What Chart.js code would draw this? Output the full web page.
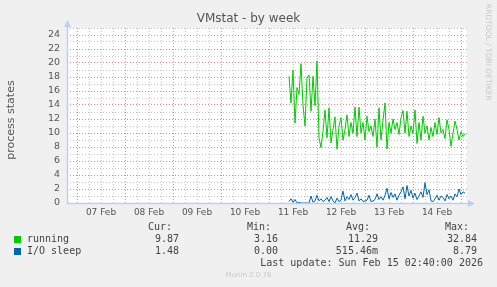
<!DOCTYPE html>
<html lang="en">
<head>
    <meta charset="UTF-8">
    <title>VMstat - by week</title>
    <script src="https://cdn.jsdelivr.net/npm/chart.js"></script>
    <style>
        body { margin: 0; background: #f0f0f0; }
        .wrap { position: relative; width: 497px; height: 287px; font-family: 'DejaVu Sans', sans-serif; color: #555; }
        .wrap canvas { position: absolute; left: 0; top: 0; }
        .t { position: absolute; white-space: pre; }
        .title { left: 0; width: 497px; top: 11px; text-align: center; font-size: 12px; }
        .ylab { left: -34px; top: 113px; width: 90px; text-align: center; font-size: 11px; line-height: 14px; transform: rotate(-90deg); }
        .rrd { left: 484px; top: 4px; font-size: 7.5px; color: #c8c8c8; writing-mode: vertical-rl; }
        .mono { font-family: 'DejaVu Sans Mono', monospace; font-size: 10px; color: #444; }
        .sq { position: absolute; width: 7px; height: 7px; }
        .munin { left: 0; width: 497px; top: 271px; text-align: center; font-size: 7px; color: #c8c8c8; }
    </style>
</head>
<body>
<div class="wrap">
    <canvas id="chart" width="497" height="287"></canvas>
    <div class="t title">VMstat - by week</div>
    <div class="t ylab">process states</div>
    <div class="t rrd">RRDTOOL / TOBI OETIKER</div>
    <div id="legend"></div>
    <div class="t munin">Munin 2.0.76</div>
</div>
<script>
    // hours counted from 07 Feb 00:00, one sample per hour
    const startHour = 106;
    const dayLabels = ['07 Feb', '08 Feb', '09 Feb', '10 Feb', '11 Feb', '12 Feb', '13 Feb', '14 Feb'];

    const running = [
        18.1, 14.3, 19.0, 11.4, 16.5, 15.5, 19.9, 14.0, 11.0, 17.9, 18.3, 13.1, 18.1, 13.9, 20.3, 9.3,
        7.9, 10.3, 13.3, 9.3, 13.6, 8.6, 10.5, 12.3, 7.7, 11.0, 12.2, 9.0, 10.5, 12.6, 9.5, 11.5,
        10.0, 13.7, 9.5, 13.7, 10.0, 11.5, 9.0, 12.4, 10.2,
        11.0, 9.5, 12.0, 8.0, 13.6, 9.0, 11.8, 14.3, 7.7, 11.5, 10.0, 12.0, 10.5, 11.5, 9.8, 12.2,
        13.2, 10.0, 13.1, 9.5, 11.0, 10.0, 13.3,
        8.5, 11.5, 9.0, 12.4, 10.0, 11.0, 9.0, 10.8, 9.5, 11.5, 9.8, 12.2, 10.0, 10.5, 9.2, 11.9,
        10.5, 8.1, 10.0, 11.7, 10.5, 9.0, 10.2, 9.5, 9.9
    ];
    const ioSleep = [
        0.2, 0.6, 0.1, 0.5, 0.0, 0.1, 0.0, 0.0, 0.0, 0.0, 0.0, 1.0, 0.1, 0.3, 1.1, 0.3,
        0.6, 0.2, 0.4, 0.8, 0.2, 0.9, 0.3, 0.0, 0.7, 0.2, 0.4, 1.7, 0.3, 0.9, 0.5, 1.2,
        0.4, 0.8, 1.4, 0.3, 0.6, 0.2, 0.3, 0.4, 1.1,
        0.2, 0.3, 0.5, 1.3, 0.5, 0.9, 0.4, 1.1, 2.1, 0.6, 1.5, 0.8, 1.3, 0.4, 1.1, 1.6,
        2.3, 0.6, 2.5, 1.0, 1.8, 0.7, 1.4,
        0.5, 1.0, 1.6, 0.8, 2.9, 1.2, 1.9, 0.3, 0.2, 0.6, 1.1, 0.4, 1.0, 0.8, 0.3, 1.2,
        0.6, 1.0, 0.4, 1.3, 0.9, 2.0, 1.2, 1.6, 1.4
    ];

    const legendRows = [
        { name: 'running', color: '#00cc00', cur: '9.87', min: '3.16', avg: '11.29', max: '32.84' },
        { name: 'I/O sleep', color: '#0066b3', cur: '1.48', min: '0.00', avg: '515.46m', max: '8.79' }
    ];

    function toPoints(values) {
        return values.map((v, i) => ({ x: startHour + i, y: v }));
    }

    // legend in html, monospace like munin
    const legend = document.getElementById('legend');
    let html = '';
    const heads = [['Cur:', 172], ['Min:', 271], ['Avg:', 370], ['Max:', 469]];
    heads.forEach(h => {
        html += `<div class="t mono" style="right:${497 - h[1]}px;top:221px">${h[0]}</div>`;
    });
    legendRows.forEach((r, i) => {
        const y = 233 + i * 12;
        html += `<div class="sq" style="left:14px;top:${y + 3}px;background:${r.color}"></div>`;
        html += `<div class="t mono" style="left:27px;top:${y}px">${r.name}</div>`;
        [[r.cur, 179], [r.min, 278], [r.avg, 378], [r.max, 477]].forEach(c => {
            html += `<div class="t mono" style="right:${497 - c[1]}px;top:${y}px">${c[0]}</div>`;
        });
    });
    html += `<div class="t mono" style="right:14px;top:257px">Last update: Sun Feb 15 02:40:00 2026</div>`;
    legend.innerHTML = html;

    const axisColor = '#c2cbf4';
    const bgPlugin = {
        id: 'bg',
        beforeDraw(chart) {
            const a = chart.chartArea, ctx = chart.ctx;
            ctx.save();
            ctx.fillStyle = '#ffffff';
            ctx.fillRect(a.left, a.top, a.right - a.left, a.bottom - a.top);
            ctx.restore();
        },
        afterDraw(chart) {
            const a = chart.chartArea, ctx = chart.ctx;
            ctx.save();
            // axis lines and arrows
            ctx.strokeStyle = axisColor;
            ctx.lineWidth = 1.5;
            ctx.beginPath();
            ctx.moveTo(a.left + 0.5, a.top - 2);
            ctx.lineTo(a.left + 0.5, a.bottom + 0.5);
            ctx.lineTo(a.right + 2, a.bottom + 0.5);
            ctx.stroke();
            ctx.fillStyle = axisColor;
            ctx.beginPath();
            ctx.moveTo(a.left - 3, a.top - 1);
            ctx.lineTo(a.left + 4, a.top - 1);
            ctx.lineTo(a.left + 0.5, a.top - 8);
            ctx.fill();
            ctx.beginPath();
            ctx.moveTo(a.right + 1, a.bottom - 3);
            ctx.lineTo(a.right + 1, a.bottom + 4);
            ctx.lineTo(a.right + 8, a.bottom + 0.5);
            ctx.fill();
            ctx.restore();
        }
    };

    const majorGrid = '#e08a8a';
    const minorGrid = '#c6c6c6';

    new Chart(document.getElementById('chart'), {
        type: 'line',
        data: {
            datasets: [
                { label: 'I/O sleep', data: toPoints(ioSleep), borderColor: '#0066b3', borderWidth: 1, pointRadius: 0, tension: 0 },
                { label: 'running', data: toPoints(running), borderColor: '#00cc00', borderWidth: 1, pointRadius: 0, tension: 0 }
            ]
        },
        options: {
            responsive: false,
            animation: false,
            devicePixelRatio: 1,
            layout: { padding: { top: 28, right: 30, left: 0, bottom: 0 } },
            plugins: { legend: { display: false }, tooltip: { enabled: false } },
            scales: {
                x: {
                    type: 'linear',
                    min: -5,
                    max: 195,
                    afterFit(scale) { scale.height = 84; },
                    afterBuildTicks(scale) {
                        const t = [];
                        for (let h = 0; h <= 192; h += 6) t.push({ value: h });
                        scale.ticks = t;
                    },
                    ticks: {
                        autoSkip: false,
                        maxRotation: 0,
                        padding: 4,
                        color: '#555',
                        font: { family: 'DejaVu Sans', size: 9 },
                        callback(v) {
                            if (v % 24 === 12) return dayLabels[(v - 12) / 24] || '';
                            return '';
                        }
                    },
                    grid: {
                        drawTicks: false,
                        color(ctx) {
                            return ctx.tick && ctx.tick.value % 24 === 0 ? majorGrid : minorGrid;
                        }
                    },
                    border: { display: false, dash: [1, 2] }
                },
                y: {
                    min: 0,
                    max: 25,
                    afterFit(scale) { scale.width = 67; },
                    afterBuildTicks(scale) {
                        const t = [];
                        for (let v = 0; v <= 25; v++) t.push({ value: v });
                        scale.ticks = t;
                    },
                    ticks: {
                        autoSkip: false,
                        padding: 7,
                        color: '#555',
                        font: { family: 'DejaVu Sans', size: 9.5 },
                        callback(v) { return v % 2 === 0 && v <= 24 ? String(v) : ''; }
                    },
                    grid: {
                        drawTicks: false,
                        color(ctx) {
                            return ctx.tick && ctx.tick.value % 2 === 0 ? majorGrid : minorGrid;
                        }
                    },
                    border: { display: false, dash: [1, 2] }
                }
            }
        },
        plugins: [bgPlugin]
    });
</script>
</body>
</html>
